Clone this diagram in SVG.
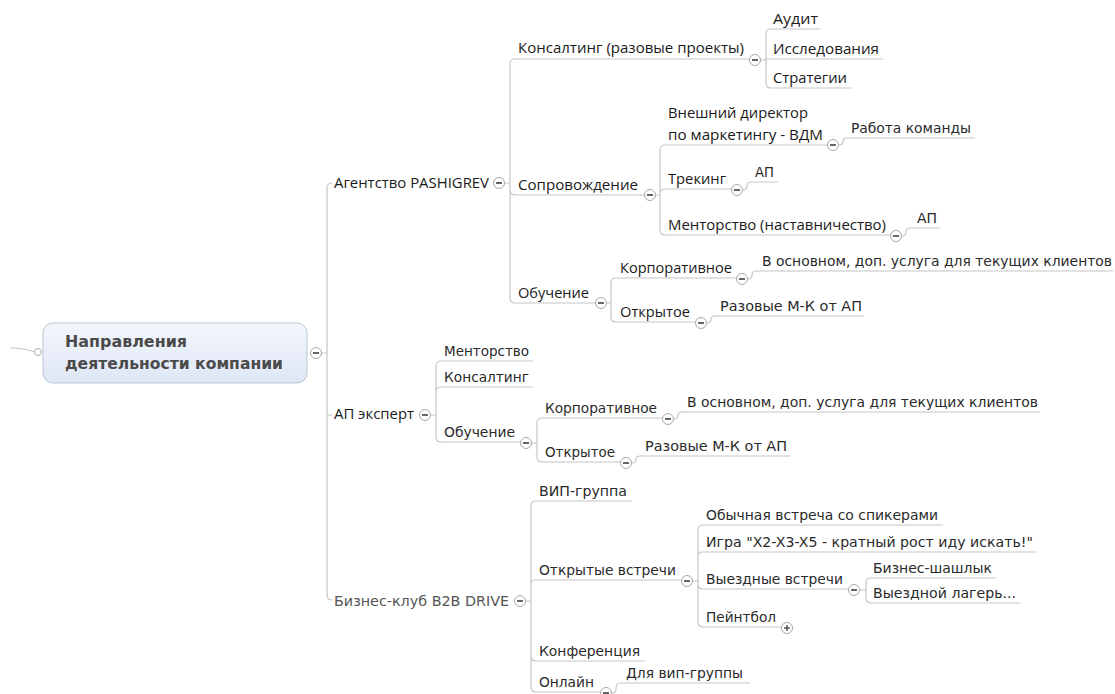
<svg xmlns="http://www.w3.org/2000/svg" xmlns:xlink="http://www.w3.org/1999/xlink" width="1115" height="694" viewBox="0 0 1115 694">
<style>
.c{fill:none;stroke:#c6c6c6;stroke-width:1.2}
.s{font-family:"Open Sans","Liberation Sans",sans-serif;font-size:15px;fill:#1a1a1a}
.v{font-family:"DejaVu Sans","Liberation Sans",sans-serif;font-size:13.6px;fill:#2a2a2a}
.g{fill:#555}
.r{font-family:"DejaVu Sans","Liberation Sans",sans-serif;font-size:15.5px;font-weight:bold;fill:#4a4a4a}
</style>
<defs>
<linearGradient id="rg" x1="0" y1="0" x2="0" y2="1">
<stop offset="0" stop-color="#f3f6fc"/>
<stop offset="1" stop-color="#dfe7f5"/>
</linearGradient>
<g id="mn"><circle r="5.5" fill="#fff" stroke="#a8a8a8" stroke-width="1"/><line x1="-3" y1="0" x2="3" y2="0" stroke="#333" stroke-width="1.5"/></g>
<g id="pl"><circle r="5.5" fill="#fff" stroke="#a8a8a8" stroke-width="1"/><line x1="-3" y1="0" x2="3" y2="0" stroke="#333" stroke-width="1.2"/><line x1="0" y1="-3" x2="0" y2="3" stroke="#333" stroke-width="1.2"/></g>
</defs>
<rect width="1115" height="694" fill="#fff"/>
<g id="connectors">
<path class="c" d="M10,348 Q24,348 34.5,352"/>
<path class="c" d="M322,353 H327 M327,353 V188 Q327,183 332,183 M327,353 V595 Q327,600 332,600 M327,415 H332"/>
<path class="c" d="M504.5,183 H510 M510,183 V64 Q510,59 515,59 H749.5 M510,183 V190 Q510,195 515,195 H644.5 M510,183 V298 Q510,303 515,303 H595.5"/>
<path class="c" d="M760.5,60 H766 M766,60 V34 Q766,29 771,29 H820 M766,59 H883 M766,60 V83 Q766,88 771,88 H851"/>
<path class="c" d="M655.5,195 H660 M660,195 V150 Q660,145 665,145 H827.5 M660,195 V194 Q660,189 665,189 H731.5 M660,195 V230 Q660,235 665,235 H890.5"/>
<path class="c" d="M838.5,145 Q843,145 843,141.5 Q843,138 847,138 H975"/>
<path class="c" d="M742.5,190 Q747,190 747,186 Q747,182 751,182 H778"/>
<path class="c" d="M901.5,236 Q906,236 906,232 Q906,228 910,228 H940"/>
<path class="c" d="M606.5,303 H611 M611,303 V283 Q611,278 616,278 H736.5 M611,303 V317 Q611,322 616,322 H695.5"/>
<path class="c" d="M747.5,279 Q752,279 752,275 Q752,271 756,271 H1113"/>
<path class="c" d="M706.5,323 Q711,323 711,319.5 Q711,316 715,316 H864"/>
<path class="c" d="M430.5,415 H436 M436,415 V366 Q436,361 441,361 H533 M436,415 V392 Q436,387 441,387 H533 M436,415 V437 Q436,442 441,442 H520.5"/>
<path class="c" d="M531.5,443 H537 M537,443 V423 Q537,418 542,418 H662.5 M537,443 V457 Q537,462 542,462 H620.5"/>
<path class="c" d="M673.5,419 Q678,419 678,415.5 Q678,412 682,412 H1040"/>
<path class="c" d="M631.5,463 Q636,463 636,459.5 Q636,456 640,456 H790"/>
<path class="c" d="M525.5,601 H531 M531,601 V506 Q531,501 536,501 H632 M531,601 V585 Q531,580 536,580 H681.5 M531,601 V656 Q531,661 536,661 H645 M531,601 V687 Q531,692 536,692 H600.5"/>
<path class="c" d="M692.5,581 H698 M698,581 V530 Q698,525 703,525 H943 M698,581 V557 Q698,552 703,552 H1037 M698,581 V584 Q698,589 703,589 H848.5 M698,581 V622 Q698,627 703,627 H781.5"/>
<path class="c" d="M859.5,590 H866 M866,590 V583 Q866,578 871,578 H996 M866,590 V598 Q866,603 871,603 H1020"/>
<path class="c" d="M611.5,693 Q616,693 616,689 Q616,683 620,683 H750"/>
</g>
<g id="root">
<rect x="43" y="323" width="264" height="60" rx="10" fill="url(#rg)" stroke="#b9c5d8" stroke-width="1"/>
<circle cx="38" cy="352" r="3.5" fill="#fff" stroke="#aaa"/>
<text class="r" x="65" y="347" textLength="122" lengthAdjust="spacingAndGlyphs">Направления</text>
<text class="r" x="65" y="369" textLength="218" lengthAdjust="spacingAndGlyphs">деятельности компании</text>
<use xlink:href="#mn" x="316" y="353"/>
</g>
<g id="agency">
<text class="s" x="334" y="188" textLength="155" lengthAdjust="spacingAndGlyphs">Агентство PASHIGREV</text>
<use xlink:href="#mn" x="499" y="183"/>
</g>
<g id="consulting">
<text class="s" x="518" y="53" textLength="226" lengthAdjust="spacingAndGlyphs">Консалтинг (разовые проекты)</text>
<use xlink:href="#mn" x="755" y="60"/>
</g>
<g id="audit"><text class="s" x="773" y="24" textLength="45" lengthAdjust="spacingAndGlyphs">Аудит</text></g>
<g id="research"><text class="s" x="773" y="54" textLength="106" lengthAdjust="spacingAndGlyphs">Исследования</text></g>
<g id="strategy"><text class="s" x="773" y="83" textLength="74" lengthAdjust="spacingAndGlyphs">Стратегии</text></g>
<g id="support">
<text class="s" x="518" y="190" textLength="120" lengthAdjust="spacingAndGlyphs">Сопровождение</text>
<use xlink:href="#mn" x="650" y="195"/>
</g>
<g id="vdm">
<text class="s" x="668" y="118" textLength="140" lengthAdjust="spacingAndGlyphs">Внешний директор</text>
<text class="s" x="668" y="140" textLength="155" lengthAdjust="spacingAndGlyphs">по маркетингу - ВДМ</text>
<use xlink:href="#mn" x="833" y="145"/>
</g>
<g id="teamwork"><text class="v" x="851" y="133" textLength="120" lengthAdjust="spacingAndGlyphs">Работа команды</text></g>
<g id="tracking">
<text class="s" x="668" y="184" textLength="58" lengthAdjust="spacingAndGlyphs">Трекинг</text>
<use xlink:href="#mn" x="737" y="190"/>
</g>
<g id="tracking-ap"><text class="v" x="755" y="177" textLength="19" lengthAdjust="spacingAndGlyphs">АП</text></g>
<g id="mentoring1">
<text class="s" x="668" y="230" textLength="218" lengthAdjust="spacingAndGlyphs">Менторство (наставничество)</text>
<use xlink:href="#mn" x="896" y="236"/>
</g>
<g id="mentoring1-ap"><text class="v" x="917" y="223" textLength="20" lengthAdjust="spacingAndGlyphs">АП</text></g>
<g id="training1">
<text class="s" x="518" y="298" textLength="71" lengthAdjust="spacingAndGlyphs">Обучение</text>
<use xlink:href="#mn" x="601" y="303"/>
</g>
<g id="corp1">
<text class="s" x="620" y="273" textLength="112" lengthAdjust="spacingAndGlyphs">Корпоративное</text>
<use xlink:href="#mn" x="742" y="279"/>
</g>
<g id="corp1-note"><text class="v" x="762" y="266" textLength="350" lengthAdjust="spacingAndGlyphs">В основном, доп. услуга для текущих клиентов</text></g>
<g id="open1">
<text class="s" x="620" y="317" textLength="70" lengthAdjust="spacingAndGlyphs">Открытое</text>
<use xlink:href="#mn" x="701" y="323"/>
</g>
<g id="open1-note"><text class="v" x="720" y="311" textLength="142" lengthAdjust="spacingAndGlyphs">Разовые М-К от АП</text></g>
<g id="ap-expert">
<text class="s" x="334" y="419" textLength="80" lengthAdjust="spacingAndGlyphs">АП эксперт</text>
<use xlink:href="#mn" x="425" y="415"/>
</g>
<g id="mentoring2"><text class="v" x="444" y="356" textLength="85" lengthAdjust="spacingAndGlyphs">Менторство</text></g>
<g id="consulting2"><text class="v" x="444" y="382" textLength="85" lengthAdjust="spacingAndGlyphs">Консалтинг</text></g>
<g id="training2">
<text class="v" x="444" y="437" textLength="71" lengthAdjust="spacingAndGlyphs">Обучение</text>
<use xlink:href="#mn" x="526" y="443"/>
</g>
<g id="corp2">
<text class="v" x="545" y="413" textLength="112" lengthAdjust="spacingAndGlyphs">Корпоративное</text>
<use xlink:href="#mn" x="668" y="419"/>
</g>
<g id="corp2-note"><text class="v" x="687" y="407" textLength="351" lengthAdjust="spacingAndGlyphs">В основном, доп. услуга для текущих клиентов</text></g>
<g id="open2">
<text class="v" x="545" y="457" textLength="70" lengthAdjust="spacingAndGlyphs">Открытое</text>
<use xlink:href="#mn" x="626" y="463"/>
</g>
<g id="open2-note"><text class="v" x="645" y="451" textLength="142" lengthAdjust="spacingAndGlyphs">Разовые М-К от АП</text></g>
<g id="club">
<text class="v g" x="334" y="606" textLength="175" lengthAdjust="spacingAndGlyphs">Бизнес-клуб B2B DRIVE</text>
<use xlink:href="#mn" x="520" y="601"/>
</g>
<g id="vip"><text class="v" x="539" y="496" textLength="88" lengthAdjust="spacingAndGlyphs">ВИП-группа</text></g>
<g id="open-meetings">
<text class="v" x="539" y="575" textLength="137" lengthAdjust="spacingAndGlyphs">Открытые встречи</text>
<use xlink:href="#mn" x="687" y="581"/>
</g>
<g id="regular"><text class="v" x="706" y="520" textLength="232" lengthAdjust="spacingAndGlyphs">Обычная встреча со спикерами</text></g>
<g id="game"><text class="v" x="706" y="547" textLength="327" lengthAdjust="spacingAndGlyphs">Игра "X2-X3-X5 - кратный рост иду искать!"</text></g>
<g id="offsite">
<text class="v" x="706" y="584" textLength="137" lengthAdjust="spacingAndGlyphs">Выездные встречи</text>
<use xlink:href="#mn" x="854" y="590"/>
</g>
<g id="bbq"><text class="v" x="873" y="573" textLength="119" lengthAdjust="spacingAndGlyphs">Бизнес-шашлык</text></g>
<g id="camp"><text class="v" x="873" y="598" textLength="143" lengthAdjust="spacingAndGlyphs">Выездной лагерь...</text></g>
<g id="paintball">
<text class="v" x="706" y="622" textLength="70" lengthAdjust="spacingAndGlyphs">Пейнтбол</text>
<use xlink:href="#pl" x="787" y="628"/>
</g>
<g id="conference"><text class="v" x="539" y="656" textLength="101" lengthAdjust="spacingAndGlyphs">Конференция</text></g>
<g id="online">
<text class="v" x="539" y="687" textLength="55" lengthAdjust="spacingAndGlyphs">Онлайн</text>
<use xlink:href="#mn" x="606" y="693"/>
</g>
<g id="online-vip"><text class="v" x="626" y="678" textLength="117" lengthAdjust="spacingAndGlyphs">Для вип-группы</text></g>
</svg>
